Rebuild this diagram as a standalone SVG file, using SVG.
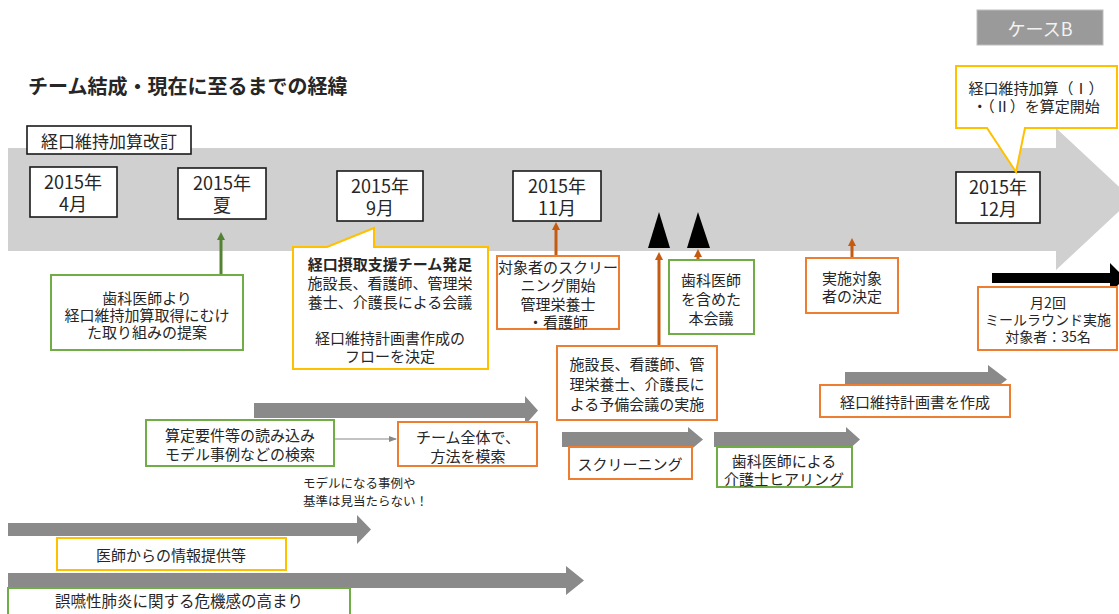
<svg xmlns="http://www.w3.org/2000/svg" width="1119" height="614" viewBox="0 0 1119 614">
<style>
text{font-family:"Noto Sans CJK JP","Noto Sans",sans-serif;fill:#262626;text-anchor:middle;dominant-baseline:central}
.t{font-size:15px}
.d{font-size:18px}
.date{fill:#fff;stroke:#1a1a1a;stroke-width:1.6}
.g{fill:#fff;stroke:#70ad47;stroke-width:2}
.o{fill:#fff;stroke:#ed7d31;stroke-width:2}
.y{fill:#fff;stroke:#ffc000;stroke-width:2}
.ga{fill:#8a8a8a}
</style>
<defs>
<marker id="ao" markerWidth="8" markerHeight="8" refX="4" refY="4" orient="auto" markerUnits="userSpaceOnUse"><path d="M0,0 L8,4 L0,8 Z" fill="#c55a11"/></marker>
<marker id="ag" markerWidth="8" markerHeight="8" refX="4" refY="4" orient="auto" markerUnits="userSpaceOnUse"><path d="M0,0 L8,4 L0,8 Z" fill="#548235"/></marker>
<marker id="at" markerWidth="8" markerHeight="8" refX="7" refY="4" orient="auto" markerUnits="userSpaceOnUse"><path d="M0,1 L8,4 L0,7 Z" fill="#888"/></marker>
</defs>

<!-- big timeline arrow -->
<polygon points="8,148 1056,148 1056,128 1132,199 1056,270 1056,251 8,251" fill="#d0d0d0"/>

<text x="28" y="85" style="font-size:20px;font-weight:bold;text-anchor:start">チーム結成・現在に至るまでの経緯</text>

<g id="caseB"><rect x="977" y="10" width="126" height="35" fill="#9a9a9a" stroke="#bdbdbd"/><text x="1040" y="28" style="font-size:18px;fill:#f2f2f2">ケースB</text></g>

<g id="revision"><rect x="27" y="126" width="164" height="28" fill="#fff" stroke="#1a1a1a" stroke-width="1.6"/><text x="109" y="140" style="font-size:17px">経口維持加算改訂</text></g>

<g id="d1"><rect class="date" x="30" y="167" width="87" height="50"/><text class="d" x="73" y="181">2015年</text><text class="d" x="73" y="203">4月</text></g>
<g id="d2"><rect class="date" x="178" y="168" width="88" height="51"/><text class="d" x="222" y="182">2015年</text><text class="d" x="222" y="204">夏</text></g>
<g id="d3"><rect class="date" x="337" y="171" width="86" height="50"/><text class="d" x="380" y="185">2015年</text><text class="d" x="380" y="207">9月</text></g>
<g id="d4"><rect class="date" x="513" y="171" width="88" height="50"/><text class="d" x="557" y="185">2015年</text><text class="d" x="557" y="207">11月</text></g>
<g id="d5"><rect class="date" x="956" y="172" width="84" height="51"/><text class="d" x="998" y="186">2015年</text><text class="d" x="998" y="208">12月</text></g>

<g id="connectors">
<line x1="221" y1="275" x2="221" y2="236" stroke="#548235" stroke-width="3" marker-end="url(#ag)"/>
<line x1="556" y1="256" x2="556" y2="226" stroke="#c55a11" stroke-width="3" marker-end="url(#ao)"/>
<line x1="659" y1="346" x2="659" y2="256" stroke="#c55a11" stroke-width="3" marker-end="url(#ao)"/>
<line x1="698" y1="260" x2="698" y2="253" stroke="#c55a11" stroke-width="3" marker-end="url(#ao)"/>
<line x1="852" y1="258" x2="852" y2="242" stroke="#c55a11" stroke-width="3" marker-end="url(#ao)"/>
<polygon points="648,248 670,248 659,212" fill="#000"/>
<polygon points="687,248 710,248 698,212" fill="#000"/>
<polygon points="992,273 1110,273 1110,263 1125,278 1110,293 1110,283 992,283" fill="#000"/>
<polygon class="ga" points="254,403 525,403 525,396 538,410.5 525,425 525,418 254,418"/>
<polygon class="ga" points="562,432 688,432 688,427 703,439.5 688,452 688,447 562,447"/>
<polygon class="ga" points="714,432 846,432 846,427 860,439.5 846,452 846,447 714,447"/>
<polygon class="ga" points="845,372 988,372 988,365 1007,379.5 988,394 988,387 845,387"/>
<polygon class="ga" points="8,523 357,523 357,515 371,529.5 357,544 357,536 8,536"/>
<polygon class="ga" points="8,573 566,573 566,566 584,580.5 566,595 566,588 8,588"/>
<line x1="334" y1="439" x2="396" y2="439" stroke="#888" stroke-width="1.2" marker-end="url(#at)"/>
</g>

<g id="callout-start"><path class="y" d="M956,66 H1117 V128 H1025 L1016,172 L987,128 H956 Z"/><text class="t" x="1036" y="87">経口維持加算（Ⅰ）</text><text class="t" x="1036" y="105">・（Ⅱ）を算定開始</text></g>

<g id="callout-team"><path class="y" d="M293,247 H327 L374,228 V247 H488 V369 H293 Z"/>
<text class="t" x="390" y="263" style="font-weight:bold">経口摂取支援チーム発足</text>
<text class="t" x="390" y="282">施設長、看護師、管理栄</text>
<text class="t" x="390" y="301">養士、介護長による会議</text>
<text class="t" x="390" y="337">経口維持計画書作成の</text>
<text class="t" x="390" y="355">フローを決定</text></g>

<g id="dentist-proposal"><rect class="g" x="51" y="275" width="192" height="75"/><text class="t" x="147" y="297">歯科医師より</text><text class="t" x="147" y="314">経口維持加算取得にむけ</text><text class="t" x="147" y="331">た取り組みの提案</text></g>

<g id="screening-start"><rect class="o" x="497" y="256" width="122" height="73"/><text class="t" x="558" y="266">対象者のスクリー</text><text class="t" x="558" y="284">ニング開始</text><text class="t" x="558" y="303">管理栄養士</text><text class="t" x="558" y="321">・看護師</text></g>

<g id="pre-meeting"><rect class="o" x="557" y="346" width="160" height="74"/><text class="t" x="637" y="363">施設長、看護師、管</text><text class="t" x="637" y="383">理栄養士、介護長に</text><text class="t" x="637" y="403">よる予備会議の実施</text></g>

<g id="main-meeting"><rect class="g" x="669" y="260" width="85" height="74"/><text class="t" x="711" y="279">歯科医師</text><text class="t" x="711" y="298">を含めた</text><text class="t" x="711" y="317">本会議</text></g>

<g id="target-decision"><rect class="o" x="806" y="258" width="92" height="55"/><text class="t" x="852" y="277">実施対象</text><text class="t" x="852" y="295">者の決定</text></g>

<g id="mealround"><rect class="o" x="978" y="287" width="139" height="63"/><text x="1048" y="302" style="font-size:14px">月2回</text><text x="1048" y="319" style="font-size:14px">ミールラウンド実施</text><text x="1048" y="336" style="font-size:14px">対象者：35名</text></g>

<g id="plan"><rect class="o" x="820" y="385" width="190" height="32"/><text class="t" x="915" y="401">経口維持計画書を作成</text></g>

<g id="reading"><rect class="g" x="146" y="420" width="188" height="46"/><text class="t" x="240" y="434">算定要件等の読み込み</text><text class="t" x="240" y="453">モデル事例などの検索</text></g>

<g id="team-method"><rect class="o" x="398" y="422" width="139" height="44"/><text class="t" x="468" y="436">チーム全体で、</text><text class="t" x="468" y="455">方法を模索</text></g>

<g id="note"><text x="303" y="482" style="font-size:12.5px;text-anchor:start">モデルになる事例や</text><text x="303" y="500" style="font-size:12.5px;text-anchor:start">基準は見当たらない！</text></g>

<g id="screening"><rect class="o" x="569" y="447" width="123" height="32"/><text class="t" x="630" y="463">スクリーニング</text></g>

<g id="hearing"><rect class="g" x="717" y="447" width="135" height="40"/><text class="t" x="784" y="460">歯科医師による</text><text class="t" x="784" y="478">介護士ヒアリング</text></g>

<g id="doctor-info"><rect class="y" x="57" y="538" width="229" height="32"/><text class="t" x="171" y="554">医師からの情報提供等</text></g>

<g id="aspiration"><rect class="g" x="8" y="588" width="342" height="30"/><text x="179" y="600" style="font-size:15.5px">誤嚥性肺炎に関する危機感の高まり</text></g>
</svg>
